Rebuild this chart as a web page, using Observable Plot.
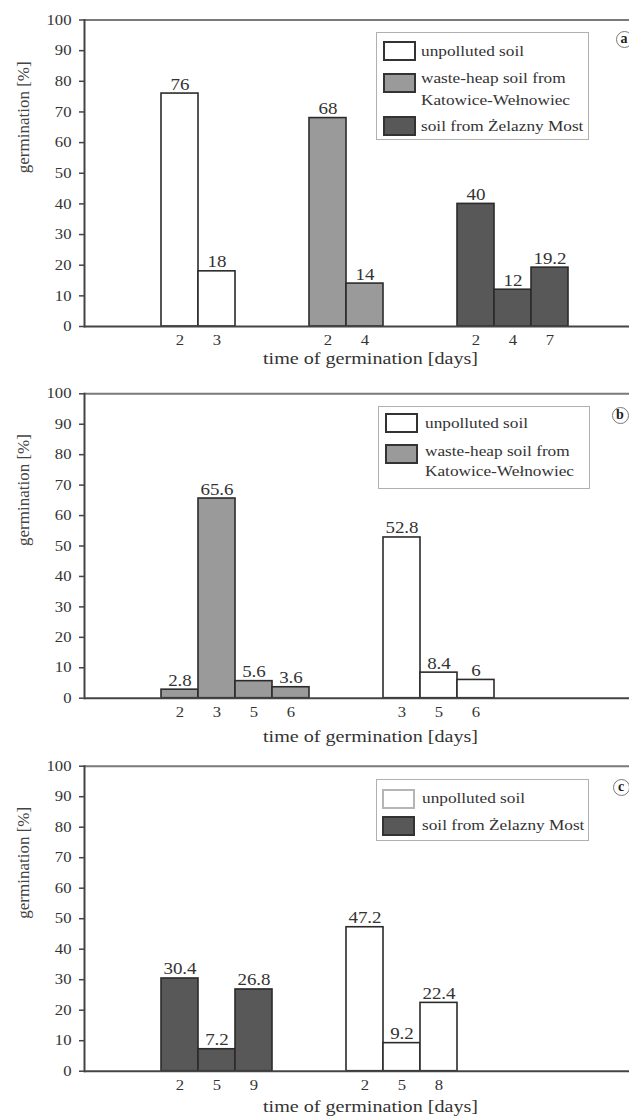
<!DOCTYPE html>
<html><head><meta charset="utf-8">
<script src="https://cdn.jsdelivr.net/npm/d3@7"></script>
<script src="https://cdn.jsdelivr.net/npm/@observablehq/plot@0.6"></script>
<style>
body{margin:0;background:#fff;}
#wrap{position:relative;width:629px;height:1117px;overflow:hidden;font-family:"Liberation Serif","Times New Roman",serif;color:#333;}
.panel{position:absolute;left:0;}
.legend{position:absolute;border:1px solid #b0b0b0;background:#fff;box-sizing:border-box;}
.sw{position:absolute;width:33px;height:20px;box-sizing:border-box;border:2px solid #333;}
.lt{position:absolute;font-size:15px;line-height:16px;height:16px;color:#333;transform:scaleX(1.15);transform-origin:left center;white-space:nowrap;}
.tag{position:absolute;width:17px;height:17px;border:1.5px solid #777;border-radius:50%;box-sizing:border-box;font-weight:bold;font-size:14px;text-align:center;line-height:13px;color:#222;}
</style></head><body><div id="wrap"></div>
<script>
// ---- data ----
const seriesKeys = ["unpolluted", "wasteHeap", "zelazny"];
const seriesLabels = [["unpolluted soil"], ["waste-heap soil from", "Katowice-Wełnowiec"], ["soil from Żelazny Most"]];
const seriesFills = ["#ffffff", "#9a9a9a", "#585858"];
const yTicks = [0, 10, 20, 30, 40, 50, 60, 70, 80, 90, 100];
const yLabel = "germination [%]";
const xLabel = "time of germination [days]";

// panel a
const aGroups = ["unpolluted", "wasteHeap", "zelazny"];
const aDays = [[2, 3], [2, 4], [2, 4, 7]];
const aValues = [[76, 18], [68, 14], [40, 12, 19.2]];
// panel b
const bGroups = ["wasteHeap", "unpolluted"];
const bDays = [[2, 3, 5, 6], [3, 5, 6]];
const bValues = [[2.8, 65.6, 5.6, 3.6], [52.8, 8.4, 6]];
// panel c
const cGroups = ["zelazny", "unpolluted"];
const cDays = [[2, 5, 9], [2, 5, 8]];
const cValues = [[30.4, 7.2, 26.8], [47.2, 9.2, 22.4]];

const panelTags = ["a", "b", "c"];
const legendSeries = [["unpolluted", "wasteHeap", "zelazny"], ["unpolluted", "wasteHeap"], ["unpolluted", "zelazny"]];

// ---- layout ----
const layouts = [
  {top: 0, height: 380, mt: 19.5, mb: 54, titleDy: 32,
   legend: {left: 376, top: 32, w: 213, h: 108, swLeft: 5.5, txLeft: 44, sw: [8, 40, 83], tx: [[18], [45.3, 67], [93]], swBorder: ["#333", "#333", "#333"]},
   tag: {left: 615.5, top: 30.5}},
  {top: 370, height: 385, mt: 23.3, mb: 57.3, titleDy: 38.5,
   legend: {left: 378, top: 405.7, w: 212, h: 83, swLeft: 6, txLeft: 46.4, sw: [6, 37.3], tx: [[16.6], [44.3, 64.3]], swBorder: ["#333", "#333"]},
   tag: {left: 611.5, top: 406.5}},
  {top: 742, height: 375, mt: 23.7, mb: 46.3, titleDy: 35.5,
   legend: {left: 376, top: 779.3, w: 213, h: 62, swLeft: 5, txLeft: 45, sw: [8.4, 35.7], tx: [[17.4], [44.7]], swBorder: ["#b5b5b5", "#333"]},
   tag: {left: 612.5, top: 779}}
];

function build(groups, days, values) {
  const rows = [];
  let slot = 2;
  groups.forEach((g, gi) => {
    if (gi > 0) slot += 2;
    days[gi].forEach((d, j) => {
      rows.push({slot: String(slot), series: g, day: String(d), value: values[gi][j]});
      slot++;
    });
  });
  return {rows, domain: d3.range(slot + 1).map(String)};
}

function stretch(svg, s) {
  svg.querySelectorAll("text").forEach(t => {
    const tr = t.getAttribute("transform") || "";
    if (tr.includes("rotate")) return;
    const b = t.getBBox();
    const anchor = getComputedStyle(t).textAnchor;
    const cx = anchor === "end" ? b.x + b.width : anchor === "middle" ? b.x + b.width / 2 : b.x;
    t.setAttribute("transform", `${tr} translate(${cx},0) scale(${s},1) translate(${-cx},0)`);
  });
}

const wrap = document.getElementById("wrap");
const panels = [build(aGroups, aDays, aValues), build(bGroups, bDays, bValues), build(cGroups, cDays, cValues)];

panels.forEach((p, i) => {
  const L = layouts[i];
  const dayOf = new Map(p.rows.map(r => [r.slot, r.day]));
  const chart = Plot.plot({
    width: 629, height: L.height,
    marginTop: L.mt, marginBottom: L.mb, marginLeft: 84, marginRight: 0,
    style: {fontFamily: "Liberation Serif, Times New Roman, serif", background: "transparent", color: "#333"},
    x: {type: "band", domain: p.domain, range: [86.5, 86.5 + 37 * p.domain.length], padding: 0, axis: null},
    y: {domain: [0, 100], axis: null},
    color: {domain: seriesKeys, range: seriesFills},
    marks: [
      Plot.barY(p.rows, {x: "slot", y: "value", fill: "series", stroke: "#2b2b2b", strokeWidth: 1.6}),
      Plot.ruleY([100], {stroke: "#7a7a7a", strokeWidth: 2}),
      Plot.ruleY([0], {stroke: "#444", strokeWidth: 2}),
      Plot.frame({anchor: "left", stroke: "#444", strokeWidth: 2}),
      Plot.axisY({ticks: yTicks, tickSize: 5, tickPadding: 8, fontSize: 14.5, stroke: "#444", strokeWidth: 1.5, label: null}),
      Plot.axisX({ticks: p.rows.map(r => r.slot), tickFormat: s => dayOf.get(s), tickSize: 0, tickPadding: 8, fontSize: 14.5, label: null}),
      Plot.text(p.rows, {x: "slot", y: "value", text: d => String(d.value), lineAnchor: "bottom", dy: -4, fontSize: 16.5, fill: "#333"}),
      Plot.text([xLabel], {frameAnchor: "bottom", dx: 13.5, dy: L.titleDy, lineAnchor: "middle", fontSize: 17.5, fill: "#333"}),
      Plot.text([yLabel], {frameAnchor: "left", rotate: -90, dx: -61, fontSize: 17, fill: "#444"})
    ]
  });
  chart.classList.add("panel");
  chart.style.top = L.top + "px";
  wrap.appendChild(chart);
  stretch(chart, 1.15);

  // legend
  const lg = document.createElement("div");
  lg.className = "legend";
  Object.assign(lg.style, {left: L.legend.left + "px", top: L.legend.top + "px", width: L.legend.w + "px", height: L.legend.h + "px"});
  legendSeries[i].forEach((key, k) => {
    const si = seriesKeys.indexOf(key);
    const sw = document.createElement("div");
    sw.className = "sw";
    Object.assign(sw.style, {left: L.legend.swLeft + "px", top: L.legend.sw[k] + "px", background: seriesFills[si], borderColor: L.legend.swBorder[k]});
    lg.appendChild(sw);
    seriesLabels[si].forEach((line, li) => {
      const t = document.createElement("div");
      t.className = "lt";
      t.textContent = line;
      Object.assign(t.style, {left: L.legend.txLeft + "px", top: (L.legend.tx[k][li] - 8) + "px"});
      lg.appendChild(t);
    });
  });
  wrap.appendChild(lg);

  // panel tag
  const tag = document.createElement("div");
  tag.className = "tag";
  tag.textContent = panelTags[i];
  Object.assign(tag.style, {left: L.tag.left + "px", top: L.tag.top + "px"});
  wrap.appendChild(tag);
});
</script></body></html>
